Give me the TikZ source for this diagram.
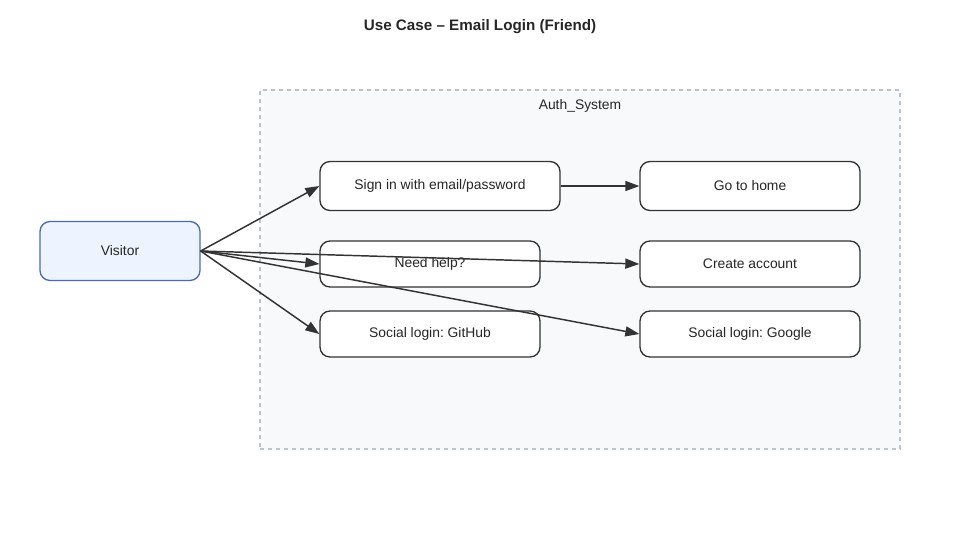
\documentclass[tikz,border=0pt]{standalone}
\usepackage{fontspec}
\setmainfont{Liberation Sans}
\usetikzlibrary{arrows.meta}
\definecolor{linegray}{HTML}{333333}
\definecolor{sysborder}{HTML}{B9C5CE}
\definecolor{sysfill}{HTML}{F8F9FB}
\definecolor{actorblue}{HTML}{4A6AB4}
\definecolor{actorfill}{HTML}{EDF4FF}
\tikzstyle{word} = [align=center, font=\fontsize{10.4}{12}\selectfont, text=black!85]
\tikzstyle{case} = [word, draw=linegray, line width=1pt, rounded corners=7.5pt, fill=white, inner sep=0pt, minimum width=165pt, minimum height=34.5pt]
\tikzstyle{actor} = [case, draw=actorblue, fill=actorfill, minimum width=120pt, minimum height=44.25pt]
\tikzstyle{system} = [draw=sysborder, dashed, line width=0.8pt, fill=sysfill, inner sep=0pt, minimum width=480pt, minimum height=269.25pt]
\tikzstyle{link} = [draw=linegray, line width=1.1pt, -{Triangle[length=10.5pt,width=7.5pt]}]

\begin{document}
\frenchspacing
\begin{tikzpicture}[x=0.75pt, y=-0.75pt]
\useasboundingbox (0,0) rectangle (960,540);

%title and boundary
\node (title) [word, font=\fontsize{11.4}{13}\bfseries] at (480,27) {Use Case -- Email Login (Friend)};
\node (sys) [system] at (580,269.5) {};
\node (syslabel) [word] at (580,106) {Auth\_System};

%nodes
\node (1) [actor] at (120,251) {Visitor};
\node (2) [case, minimum width=180pt, minimum height=36.75pt] at (440,186) {Sign in with email/password};
\node (3) [case, minimum height=36.75pt] at (750,186) {Go to home};
\node (4) [case] at (430,264) {Need help?};
\node (5) [case] at (750,264) {Create account};
\node (6) [case] at (430,334) {Social login: GitHub};
\node (7) [case] at (750,334) {Social login: Google};

%arrows
\draw [link] (1.east) -- (2.west);
\draw [link] (1.east) -- (4.west);
\draw [link] (1.east) -- (5.west);
\draw [link] (1.east) -- (7.west);
\draw [link] (1.east) -- (6.west);
\draw [link] (2) -- (3);

\end{tikzpicture}
\end{document}
